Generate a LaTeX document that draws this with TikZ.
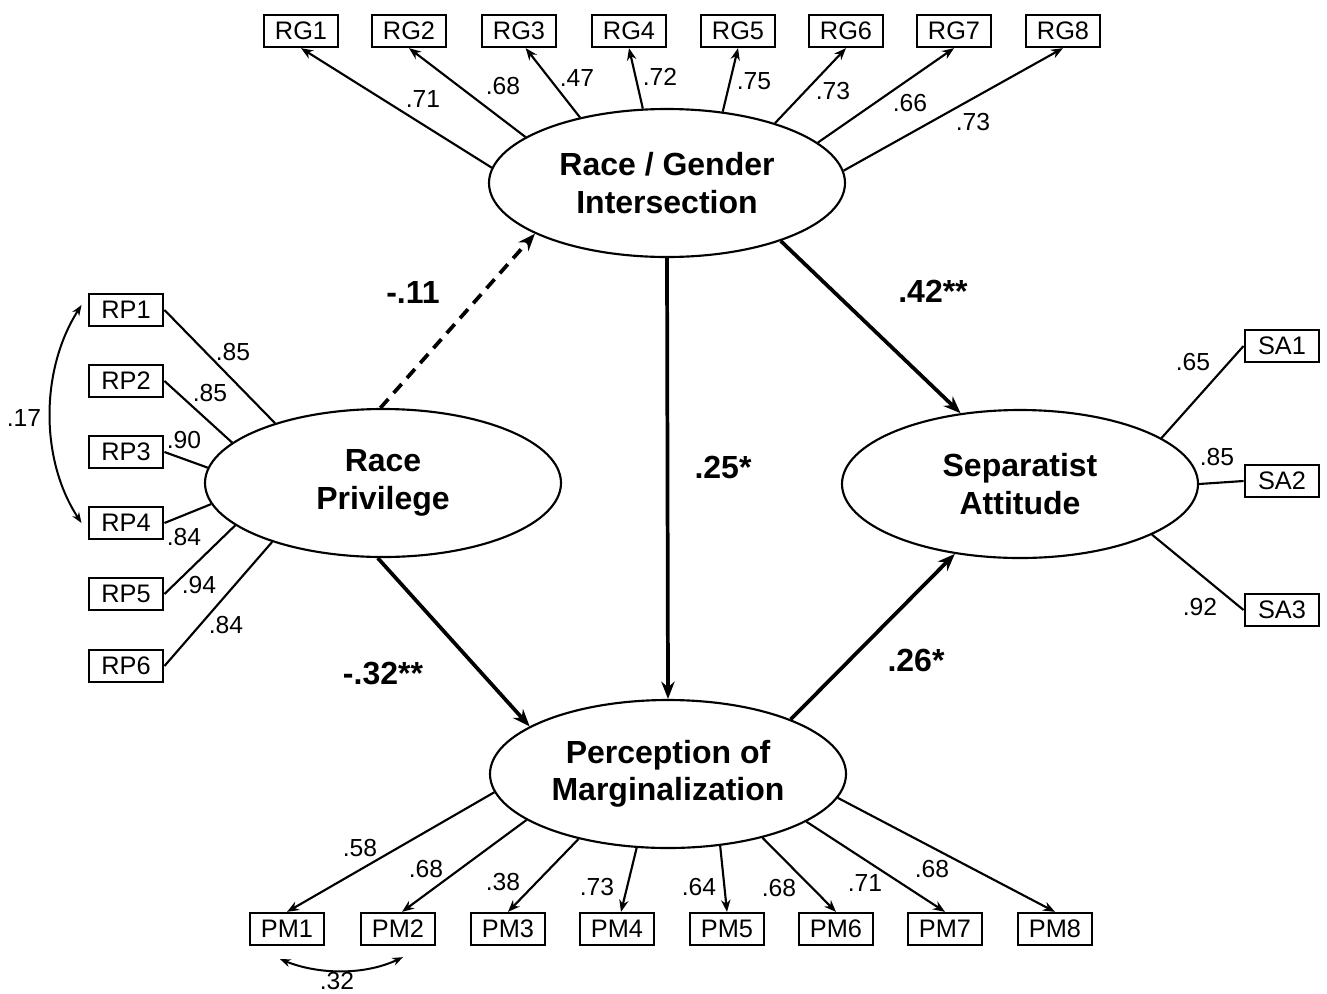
\documentclass[tikz,border=0pt]{standalone}
\usepackage{fontspec}
\setmainfont{Liberation Sans}
\usetikzlibrary{arrows.meta,shapes.geometric}
\begin{document}
\begin{tikzpicture}[x=0.75pt,y=-0.75pt,
  latent/.style={draw, line width=1.6pt, ellipse, minimum width=267pt, minimum height=111pt, inner sep=0pt, align=center, font=\fontsize{24}{28}\selectfont\bfseries},
  ind/.style={draw, line width=1.7pt, rectangle, minimum width=56pt, minimum height=24pt, inner sep=0pt, font=\fontsize{19}{20}\selectfont},
  loadline/.style={line width=1.6pt},
  loadarr/.style={loadline, -{Stealth[length=9pt,width=7pt]}},
  structpath/.style={line width=2.8pt, -{Stealth[length=13pt,width=10pt]}},
  coef/.style={font=\fontsize{18.5}{20}\selectfont, inner sep=0pt},
  pcoef/.style={font=\fontsize{24}{26}\selectfont\bfseries, inner sep=0pt},
  cov/.style={line width=1.5pt, {Stealth[length=8pt,width=6pt]}-{Stealth[length=8pt,width=6pt]}}
]
\useasboundingbox (0,0) rectangle (1327,993);

% latent variables
\node[latent] (rgi) at (667,183) {Race / Gender\\Intersection};
\node[latent] (rp)  at (383,483) {Race\\Privilege};
\node[latent] (sa)  at (1020,484) {Separatist\\Attitude};
\node[latent] (pm)  at (668,774) {Perception of\\Marginalization};

% RG indicators
\node[ind] (rg1) at (301,31) {RG1};
\node[ind] (rg2) at (409,31) {RG2};
\node[ind] (rg3) at (519,31) {RG3};
\node[ind] (rg4) at (629,31) {RG4};
\node[ind] (rg5) at (738,31) {RG5};
\node[ind] (rg6) at (846,31) {RG6};
\node[ind] (rg7) at (954,31) {RG7};
\node[ind] (rg8) at (1063,31) {RG8};

% RP indicators
\node[ind] (rp1) at (126,310) {RP1};
\node[ind] (rp2) at (126,381) {RP2};
\node[ind] (rp3) at (126,452) {RP3};
\node[ind] (rp4) at (126,523) {RP4};
\node[ind] (rp5) at (126,594) {RP5};
\node[ind] (rp6) at (126,666) {RP6};

% SA indicators
\node[ind] (sa1) at (1282,346) {SA1};
\node[ind] (sa2) at (1282,481) {SA2};
\node[ind] (sa3) at (1282,610) {SA3};

% PM indicators
\node[ind] (pm1) at (287,929) {PM1};
\node[ind] (pm2) at (398,929) {PM2};
\node[ind] (pm3) at (508,929) {PM3};
\node[ind] (pm4) at (617,929) {PM4};
\node[ind] (pm5) at (727,929) {PM5};
\node[ind] (pm6) at (836,929) {PM6};
\node[ind] (pm7) at (945,929) {PM7};
\node[ind] (pm8) at (1055,929) {PM8};

% RG loadings
\draw[loadarr] (rgi.175.5) -- (rg1.south);
\draw[loadarr] (rgi.162) -- (rg2.south);
\draw[loadarr] (rgi.143) -- ([xshift=5pt]rg3.south);
\draw[loadarr] (rgi.108) -- (rg4.south);
\draw[loadarr] (rgi.52) -- (rg5.south);
\draw[loadarr] (rgi.29.5) -- (rg6.south);
\draw[loadarr] (rgi.15.5) -- (rg7.south);
\draw[loadarr] (rgi.4) -- (rg8.south);

% RP loadings
\draw[loadline] (rp1.east) -- (rp.151.6);
\draw[loadline] (rp2.east) -- (rp.165);
\draw[loadline] (rp3.east) -- (rp.175);
\draw[loadline] (rp4.east) -- (rp.187.8);
\draw[loadline] (rp5.east) -- (rp.196);
\draw[loadline] (rp6.east) -- (rp.208);

% SA loadings
\draw[loadline] (sa.18.6) -- (sa1.west);
\draw[loadline] (sa.0) -- (sa2.west);
\draw[loadline] (sa.-21) -- (sa3.west);

% PM loadings
\draw[loadarr] (pm.186.8) -- (pm1.north);
\draw[loadarr] (pm.198) -- ([xshift=3pt]pm2.north);
\draw[loadarr] (pm.216) -- (pm3.north);
\draw[loadarr] (pm.247) -- ([xshift=3pt]pm4.north);
\draw[loadarr] (pm.306) -- (pm5.north);
\draw[loadarr] (pm.326) -- (pm6.north);
\draw[loadarr] (pm.341) -- (pm7.north);
\draw[loadarr] (pm.352) -- (pm8.north);

% covariances
\draw[cov] ([shift={(-6,-5)}]rp1.west) .. controls (40,370) and (40,460) .. ([shift={(-6,0)}]rp4.west);
\draw[cov] ([shift={(-7,13)}]pm1.south) .. controls (320,975) and (365,975) .. ([shift={(5,11)}]pm2.south);

% structural paths
\draw[structpath, dash pattern=on 9pt off 6pt] (rp.92) -- (rgi.201);
\draw[structpath] (rgi.south) -- (pm.north);
\draw[structpath] (rgi.-27) -- (sa.130);
\draw[structpath] (rp.266) -- (pm.161);
\draw[structpath] (pm.24) -- (sa.227);

% loading coefficients
\node[coef] (lrg1) at (423,99) {.71};
\node[coef] (lrg2) at (503,86) {.68};
\node[coef] (lrg3) at (577,78) {.47};
\node[coef] (lrg4) at (660,77) {.72};
\node[coef] (lrg5) at (754,81) {.75};
\node[coef] (lrg6) at (833,91) {.73};
\node[coef] (lrg7) at (910,103) {.66};
\node[coef] (lrg8) at (973,122) {.73};

\node[coef] (lrp1) at (233,352) {.85};
\node[coef] (lrp2) at (210,393) {.85};
\node[coef] (lrp3) at (184,440) {.90};
\node[coef] (lrp4) at (184,537) {.84};
\node[coef] (lrp5) at (199,585) {.94};
\node[coef] (lrp6) at (226,625) {.84};
\node[coef] (lcov1) at (24,418) {.17};

\node[coef] (lsa1) at (1193,362) {.65};
\node[coef] (lsa2) at (1217,457) {.85};
\node[coef] (lsa3) at (1200,607) {.92};

\node[coef] (lpm1) at (360,848) {.58};
\node[coef] (lpm2) at (426,869) {.68};
\node[coef] (lpm3) at (503,882) {.38};
\node[coef] (lpm4) at (597,887) {.73};
\node[coef] (lpm5) at (699,887) {.64};
\node[coef] (lpm6) at (779,888) {.68};
\node[coef] (lpm7) at (865,883) {.71};
\node[coef] (lpm8) at (932,869) {.68};
\node[coef] (lcov2) at (337,981) {.32};

% structural coefficients
\node[pcoef] (c1) at (413,292) {-.11};
\node[pcoef] (c2) at (933,291) {.42**};
\node[pcoef] (c3) at (723,467) {.25*};
\node[pcoef] (c4) at (383,673) {-.32**};
\node[pcoef] (c5) at (916,660) {.26*};
\end{tikzpicture}
\end{document}
